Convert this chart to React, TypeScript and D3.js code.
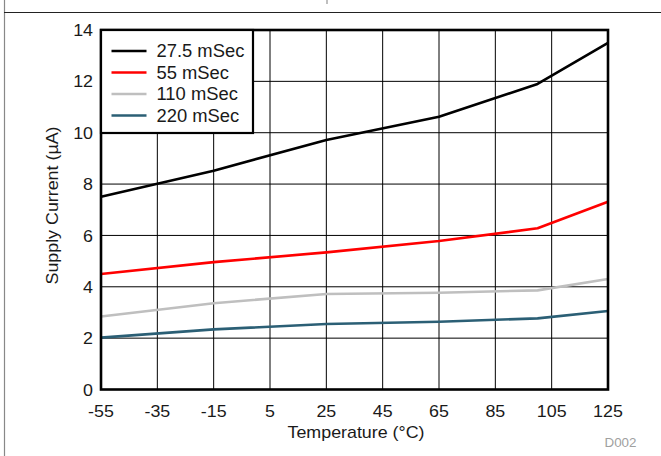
import React from "react";
import * as d3 from "d3";

const temps = [-55, -15, 25, 65, 100, 125];
const s275 = [7.51, 8.52, 9.72, 10.62, 11.9, 13.5];
const s55 = [4.5, 4.96, 5.34, 5.78, 6.28, 7.31];
const s110 = [2.84, 3.36, 3.72, 3.77, 3.86, 4.3];
const s220 = [2.02, 2.34, 2.55, 2.64, 2.77, 3.06];
const seriesNames = ["27.5 mSec", "55 mSec", "110 mSec", "220 mSec"];
const seriesColors = ["#000000", "#ff0000", "#bfbfbf", "#2b5f75"];
const xTicks = [-55, -35, -15, 5, 25, 45, 65, 85, 105, 125];
const yTicks = [0, 2, 4, 6, 8, 10, 12, 14];

const FONT = "'Liberation Sans', Arial, Helvetica, sans-serif";
const SX = 1.05;

function T(props: { x: number; y: number; size: number; anchor?: string; fill?: string; rotate?: number; children: React.ReactNode }) {
  const { x, y, size, anchor = "start", fill = "#1a1a1a", rotate = 0, children } = props;
  return (
    <text
      transform={`translate(${x},${y}) rotate(${rotate}) scale(${SX},1)`}
      fontFamily={FONT}
      fontSize={size}
      textAnchor={anchor}
      fill={fill}
    >
      {children}
    </text>
  );
}

export default function App() {
  const W = 661, H = 456;
  const x = d3.scaleLinear().domain([-55, 125]).range([101, 608]);
  const y = d3.scaleLinear().domain([0, 14]).range([389.5, 30]);
  const series = [s275, s55, s110, s220];
  const line = d3
    .line<number>()
    .x((_, i) => x(temps[i]))
    .y((d) => y(d));

  const legX = 101, legY = 30, legW = 152, legH = 103;
  const legRows = [51, 72.5, 94, 115.5];

  return (
    <svg width={W} height={H} style={{ position: "absolute", left: 0, top: 0, background: "#fff" }}>
      <rect x={0} y={0} width={W} height={H} fill="#fff" />
      {/* outer frame */}
      <line x1={4.5} y1={0} x2={4.5} y2={H} stroke="#888" strokeWidth={1.2} />
      <line x1={4} y1={12.5} x2={W} y2={12.5} stroke="#222" strokeWidth={1.2} />
      <line x1={327} y1={0} x2={327} y2={4} stroke="#aaa" strokeWidth={1.5} />

      {/* grid */}
      {xTicks.map((t) => (
        <line key={"gx" + t} x1={x(t)} x2={x(t)} y1={y(14)} y2={y(0)} stroke="#000" strokeWidth={1} />
      ))}
      {yTicks.map((t) => (
        <line key={"gy" + t} x1={x(-55)} x2={x(125)} y1={y(t)} y2={y(t)} stroke="#000" strokeWidth={1} />
      ))}

      {/* series */}
      {series.map((s, i) => (
        <path key={"s" + i} d={line(s) || ""} fill="none" stroke={seriesColors[i]} strokeWidth={2.6} strokeLinejoin="round" />
      ))}

      {/* plot border */}
      <rect x={x(-55)} y={y(14)} width={x(125) - x(-55)} height={y(0) - y(14)} fill="none" stroke="#000" strokeWidth={2.6} />

      {/* legend */}
      <rect x={legX} y={legY} width={legW} height={legH} fill="#fff" stroke="#000" strokeWidth={2.2} />
      {seriesNames.map((n, i) => (
        <g key={"l" + i}>
          <line x1={111.5} x2={146.5} y1={legRows[i]} y2={legRows[i]} stroke={seriesColors[i]} strokeWidth={2.6} />
          <T x={156.5} y={legRows[i] + 6.3} size={17.5}>
            {n}
          </T>
        </g>
      ))}

      {/* y tick labels */}
      {yTicks.map((t) => (
        <T key={"yt" + t} x={93} y={y(t) + 6.1} size={17} anchor="end">
          {t}
        </T>
      ))}
      {/* x tick labels */}
      {xTicks.map((t) => (
        <T key={"xt" + t} x={x(t)} y={416.7} size={17} anchor="middle">
          {t}
        </T>
      ))}

      <T x={356} y={438} size={17} anchor="middle">
        Temperature (°C)
      </T>
      <T x={58} y={205.5} size={17} anchor="middle" rotate={-90}>
        Supply Current (µA)
      </T>
      <T x={620.5} y={446.5} size={12.75} anchor="middle" fill="#a0a0a0">
        D002
      </T>
    </svg>
  );
}
